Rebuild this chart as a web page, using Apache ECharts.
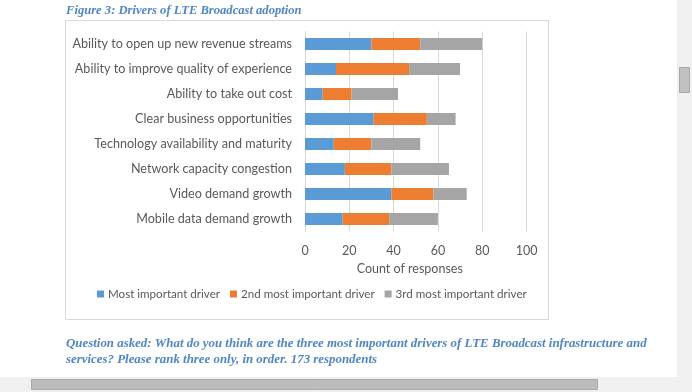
<!DOCTYPE html>
<html>
<head>
<meta charset="utf-8">
<script src="https://cdn.jsdelivr.net/npm/echarts@6/dist/echarts.min.js"></script>
<style>
html,body{margin:0;padding:0;background:#fff;}
#c{width:692px;height:392px;}
</style>
</head>
<body>
<div id="c"></div>
<script>
var categories = [
  'Ability to open up new revenue streams',
  'Ability to improve quality of experience',
  'Ability to take out cost',
  'Clear business opportunities',
  'Technology availability and maturity',
  'Network capacity congestion',
  'Video demand growth',
  'Mobile data demand growth'
];
var mostImportant = [30, 14, 8, 31, 13, 18, 39, 17];
var secondMost    = [22, 33, 13, 24, 17, 21, 19, 21];
var thirdMost     = [28, 23, 21, 13, 22, 26, 15, 22];
var seriesNames = ['Most important driver', '2nd most important driver', '3rd most important driver'];
var xTicks = [0, 20, 40, 60, 80, 100];

var titleText = 'Figure 3: Drivers of LTE Broadcast adoption';
var footer1 = 'Question asked: What do you think are the three most important drivers of LTE Broadcast infrastructure and';
var footer2 = 'services? Please rank three only, in order. 173 respondents';

var blueText = '#4F86C8';
var labelFont = 'Lato';
var serifFont = '"Liberation Serif", "DejaVu Serif", serif';

var chart = echarts.init(document.getElementById('c'), null, {renderer: 'canvas'});
var colors = ['#5B9BD5', '#ED7D31', '#A5A5A5'];
var dataArr = [mostImportant, secondMost, thirdMost];

var option = {
  animation: false,
  backgroundColor: '#ffffff',
  color: colors,
  textStyle: {fontFamily: labelFont},
  grid: {left: 305, top: 31.5, width: 221.5, height: 200, containLabel: false},
  xAxis: {
    type: 'value', min: xTicks[0], max: xTicks[xTicks.length - 1], interval: 20,
    name: 'Count of responses', nameLocation: 'middle', nameGap: 30,
    nameTextStyle: {color: '#595959', fontSize: 12.5, fontFamily: labelFont, padding: [0, 12, 0, 0]},
    axisLine: {show: false}, axisTick: {show: false},
    axisLabel: {color: '#595959', fontSize: 12.5, margin: 13, fontFamily: labelFont},
    splitLine: {show: true, lineStyle: {color: '#D9D9D9', width: 1}}
  },
  yAxis: {
    type: 'category', data: categories, inverse: true,
    axisLine: {show: true, lineStyle: {color: '#D9D9D9'}},
    axisTick: {show: false},
    axisLabel: {color: '#595959', fontSize: 12.6, margin: 13, fontFamily: labelFont}
  },
  legend: {
    left: 92, top: 283, itemWidth: 7, itemHeight: 7, itemGap: 10,
    icon: 'rect',
    textStyle: {color: '#595959', fontSize: 11.6, fontFamily: labelFont, padding: [0, 0, 0, -1]},
    data: seriesNames
  },
  series: seriesNames.map(function (n, i) {
    return {name: n, type: 'bar', stack: 'total', barWidth: 12, data: dataArr[i]};
  }),
  graphic: [
    {type: 'rect', shape: {x: 65.5, y: 20.5, width: 483, height: 299}, style: {fill: 'none', stroke: '#D9D9D9', lineWidth: 1}, z: 0},
    {type: 'text', left: 66, top: 4, style: {text: titleText, fill: blueText, font: 'italic bold 12.6px ' + serifFont}},
    {type: 'text', left: 66, top: 337, style: {text: footer1, fill: blueText, font: 'italic bold 12.9px ' + serifFont}},
    {type: 'text', left: 66, top: 353, style: {text: footer2, fill: blueText, font: 'italic bold 12.9px ' + serifFont}},
    {type: 'rect', shape: {x: 677, y: 0, width: 15, height: 392}, style: {fill: '#F0F0F0'}},
    {type: 'rect', shape: {x: 0, y: 377, width: 692, height: 15}, style: {fill: '#F0F0F0'}},
    {type: 'rect', shape: {x: 679.5, y: 67.5, width: 10, height: 25}, style: {fill: '#C1C1C1', stroke: '#A8A8A8', lineWidth: 1}},
    {type: 'rect', shape: {x: 31.5, y: 379.5, width: 566, height: 10}, style: {fill: '#BCBCBC', stroke: '#A8A8A8', lineWidth: 1}}
  ]
};
chart.setOption(option);
</script>
</body>
</html>
